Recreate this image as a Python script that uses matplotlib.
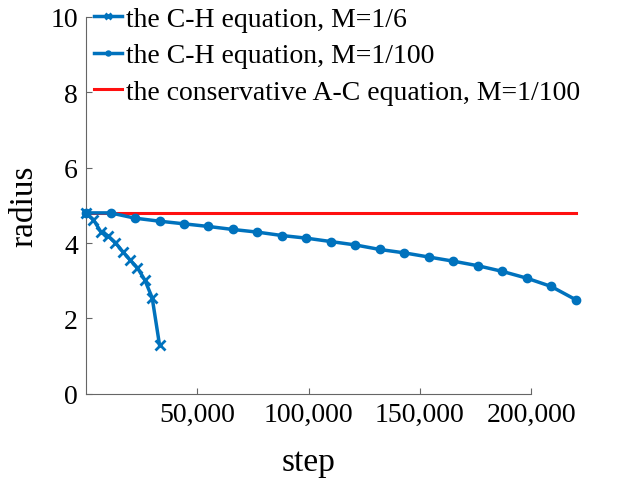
import matplotlib
matplotlib.use("Agg")
import matplotlib.pyplot as plt
import matplotlib.ticker as ticker

# C-H equation, M=1/6
ch6_step = [0, 3300, 6600, 9900, 13200, 16500, 19800, 23100, 26400, 29700, 33000]
ch6_radius = [4.80, 4.62, 4.30, 4.19, 4.01, 3.77, 3.55, 3.34, 3.02, 2.55, 1.30]

# C-H equation, M=1/100
ch100_step = [0, 11000, 22000, 33000, 44000, 55000, 66000, 77000, 88000, 99000, 110000,
              121000, 132000, 143000, 154000, 165000, 176000, 187000, 198000, 209000, 220000]
ch100_radius = [4.80, 4.80, 4.66, 4.58, 4.51, 4.44, 4.36, 4.29, 4.20, 4.13, 4.04,
                3.95, 3.83, 3.74, 3.63, 3.52, 3.40, 3.25, 3.07, 2.85, 2.50]

# conservative A-C equation, M=1/100
ac_step = [0, 220000]
ac_radius = [4.80, 4.80]

xtick_vals = [50000, 100000, 150000, 200000]
ytick_vals = [0, 2, 4, 6, 8, 10]

plt.rcParams['font.family'] = ['Liberation Serif', 'DejaVu Serif']

fig = plt.figure(figsize=(6.33, 4.81), dpi=100)
ax = fig.add_axes([0.136, 0.179, 0.703, 0.784])

blue = '#0072BD'
ax.plot(ch6_step, ch6_radius, color=blue, linewidth=2.5, marker='x', markersize=7,
        markeredgewidth=2, label='the C-H equation, M=1/6', clip_on=False, zorder=3)
ax.plot(ch100_step, ch100_radius, color=blue, linewidth=2.5, marker='o', markersize=6,
        label='the C-H equation, M=1/100', clip_on=False, zorder=3)
ax.plot(ac_step, ac_radius, color='#FF1010', linewidth=2.2,
        label='the conservative A-C equation, M=1/100', clip_on=False, zorder=2)

ax.set_xlim(0, 200000)
ax.set_ylim(0, 10)
ax.set_xticks(xtick_vals)
ax.set_yticks(ytick_vals)
ax.xaxis.set_major_formatter(ticker.FuncFormatter(lambda v, p: '{:,}'.format(int(v))))

for s in ['top', 'right']:
    ax.spines[s].set_visible(False)
for s in ['left', 'bottom']:
    ax.spines[s].set_color('#666666')
    ax.spines[s].set_linewidth(0.8)
ax.tick_params(direction='in', length=4, width=0.8, color='#666666', labelsize=20, pad=6)

ax.set_xlabel('step', fontsize=24, labelpad=14)
ax.set_ylabel('radius', fontsize=24, labelpad=8)

leg = ax.legend(loc='upper left', bbox_to_anchor=(0.012, 1.035), frameon=False, fontsize=20,
                handlelength=1.0, handletextpad=0.15, labelspacing=0.4, borderpad=0.1,
                borderaxespad=0.0, markerscale=0.6)

fig.savefig('out.png', dpi=100)
